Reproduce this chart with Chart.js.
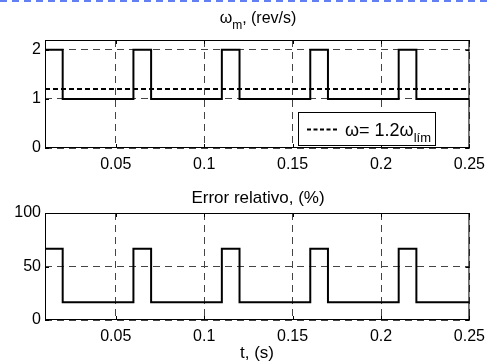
<!DOCTYPE html>
<html>
<head>
<meta charset="utf-8">
<script src="https://cdn.jsdelivr.net/npm/chart.js@4"></script>
<style>
  html, body { margin: 0; padding: 0; background: #fff; }
  #wrap { position: relative; width: 492px; height: 364px; }
  .box { position: absolute; left: 0; width: 492px; }
</style>
</head>
<body>
<div id="wrap">
  <div class="box" style="top:0;height:178px"><canvas id="c1"></canvas></div>
  <div class="box" style="top:178px;height:186px"><canvas id="c2"></canvas></div>
</div>
<script>
// switching instants (s) and values held from each instant on
const tSwitch = [0.01, 0.02, 0.06, 0.07, 0.11, 0.12, 0.16, 0.17, 0.21, 0.22, 0.25];
const omegaM = [2, 1, 2, 1, 2, 1, 2, 1, 2, 1, 1];          // rev/s
const errRel = [66.67, 16.67, 66.67, 16.67, 66.67, 16.67, 66.67, 16.67, 66.67, 16.67, 16.67]; // %
const tLim = [0.01, 0.25];
const omegaLim = [1.2, 1.2];   // 1.2*w_lim

const xTicks = [0.05, 0.1, 0.15, 0.2, 0.25];
const y1Ticks = [0, 1, 2];
const y2Ticks = [0, 50, 100];

const FONT = 'Liberation Sans, Arial, Helvetica, sans-serif';

function pts(xs, ys) {
    return xs.map((x, i) => ({ x: x, y: ys[i] }));
}

function fixTicks(list) {
    return (axis) => { axis.ticks = list.map(v => ({ value: v })); };
}

// frame, inward ticks, titles, legend
function decoPlugin(opts) {
    return {
        id: 'deco',
        afterDraw(chart) {
            const ctx = chart.ctx;
            const a = chart.chartArea;
            const xs = chart.scales.x, ys = chart.scales.y;
            ctx.save();
            ctx.strokeStyle = '#000';
            ctx.lineWidth = 1;
            ctx.setLineDash([]);
            ctx.strokeRect(a.left + 0.5, a.top + 0.5, a.right - a.left - 1, a.bottom - a.top - 1);
            ctx.beginPath();
            xs.ticks.forEach(t => {
                const px = Math.round(xs.getPixelForValue(t.value)) + 0.5;
                ctx.moveTo(px, a.bottom); ctx.lineTo(px, a.bottom - 4);
                ctx.moveTo(px, a.top); ctx.lineTo(px, a.top + 4);
            });
            ys.ticks.forEach(t => {
                const py = Math.round(ys.getPixelForValue(t.value)) + 0.5;
                ctx.moveTo(a.left, py); ctx.lineTo(a.left + 4, py);
                ctx.moveTo(a.right, py); ctx.lineTo(a.right - 4, py);
            });
            ctx.stroke();
            ctx.fillStyle = '#000';
            ctx.textBaseline = 'alphabetic';
            opts.texts.forEach(tx => {
                const big = (tx.size || 16) + 'px ' + FONT, small = '12px ' + FONT;
                ctx.font = big;
                const w1 = ctx.measureText(tx.main).width;
                let w2 = 0, w3 = 0;
                if (tx.sub) { ctx.font = small; w2 = ctx.measureText(tx.sub).width; }
                if (tx.rest) { ctx.font = big; w3 = ctx.measureText(tx.rest).width; }
                let x = tx.cx - (w1 + w2 + w3) / 2;
                ctx.textAlign = 'left';
                ctx.font = big;
                ctx.fillText(tx.main, x, tx.y);
                x += w1;
                if (tx.sub) { ctx.font = small; ctx.fillText(tx.sub, x, tx.y + 6); x += w2; }
                if (tx.rest) { ctx.font = big; ctx.fillText(tx.rest, x, tx.y); }
            });
            if (opts.legend) {
                const L = opts.legend;
                ctx.fillStyle = '#fff';
                ctx.fillRect(L.x, L.y, L.w, L.h);
                ctx.strokeStyle = '#000';
                ctx.strokeRect(L.x + 0.5, L.y + 0.5, L.w - 1, L.h - 1);
                ctx.setLineDash([4, 2.5]);
                ctx.lineWidth = 1.8;
                ctx.beginPath();
                ctx.moveTo(L.x + 9, L.y + 17.5);
                ctx.lineTo(L.x + 41, L.y + 17.5);
                ctx.stroke();
                ctx.setLineDash([]);
                ctx.fillStyle = '#000';
                ctx.font = '18px ' + FONT;
                ctx.fillText('ω= 1.2ω', L.x + 47, L.y + 24);
                const w = ctx.measureText('ω= 1.2ω').width;
                ctx.font = '13px ' + FONT;
                ctx.fillText('lím', L.x + 47 + w, L.y + 30);
            }
            if (opts.topLine) {
                ctx.strokeStyle = '#2f55f0';
                ctx.lineWidth = 1.5;
                ctx.setLineDash([7, 5]);
                ctx.beginPath();
                ctx.moveTo(0, 1);
                ctx.lineTo(492, 1);
                ctx.stroke();
            }
            ctx.restore();
        }
    };
}

function baseOptions(yMax, yTickList, xHeight, padTop) {
    return {
        responsive: true,
        maintainAspectRatio: false,
        animation: false,
        layout: { padding: { top: padTop, right: 18, bottom: 0, left: 0 } },
        plugins: { legend: { display: false }, title: { display: false }, tooltip: { enabled: false } },
        elements: { point: { radius: 0 } },
        scales: {
            x: {
                type: 'linear', min: 0.01, max: 0.25,
                afterBuildTicks: fixTicks(xTicks),
                afterFit: (s) => { s.height = xHeight; },
                grid: { color: '#444', lineWidth: 1, drawTicks: false },
                border: { display: false, dash: [7, 5] },
                ticks: { padding: 7, color: '#000', font: { family: FONT, size: 16 },
                    maxRotation: 0, callback: (v) => String(v) }
            },
            y: {
                type: 'linear', min: 0, max: yMax,
                afterBuildTicks: fixTicks(yTickList),
                afterFit: (s) => { s.width = 45; },
                grid: { color: '#444', lineWidth: 1, drawTicks: false },
                border: { display: false, dash: [7, 5] },
                ticks: { padding: 4, color: '#000', font: { family: FONT, size: 16 } }
            }
        }
    };
}

new Chart(document.getElementById('c1'), {
    type: 'line',
    data: {
        datasets: [
            { data: pts(tSwitch, omegaM), stepped: true, borderColor: '#000', borderWidth: 2, fill: false },
            { data: pts(tLim, omegaLim), borderColor: '#000', borderWidth: 2, borderDash: [5, 3], fill: false }
        ]
    },
    options: baseOptions(2.2, y1Ticks, 30, 40),
    plugins: [decoPlugin({
        texts: [{ cx: 258, y: 23, size: 16, main: 'ω', sub: 'm', rest: ', (rev/s)' }],
        legend: { x: 298, y: 112, w: 138, h: 34 },
        topLine: true
    })]
});

new Chart(document.getElementById('c2'), {
    type: 'line',
    data: {
        datasets: [
            { data: pts(tSwitch, errRel), stepped: true, borderColor: '#000', borderWidth: 2, fill: false }
        ]
    },
    options: baseOptions(100, y2Ticks, 44, 35),
    plugins: [decoPlugin({
        texts: [
            { cx: 258, y: 25, size: 17, main: 'Error relativo, (%)' },
            { cx: 257, y: 180, size: 17, main: 't, (s)' }
        ]
    })]
});
</script>
</body>
</html>
